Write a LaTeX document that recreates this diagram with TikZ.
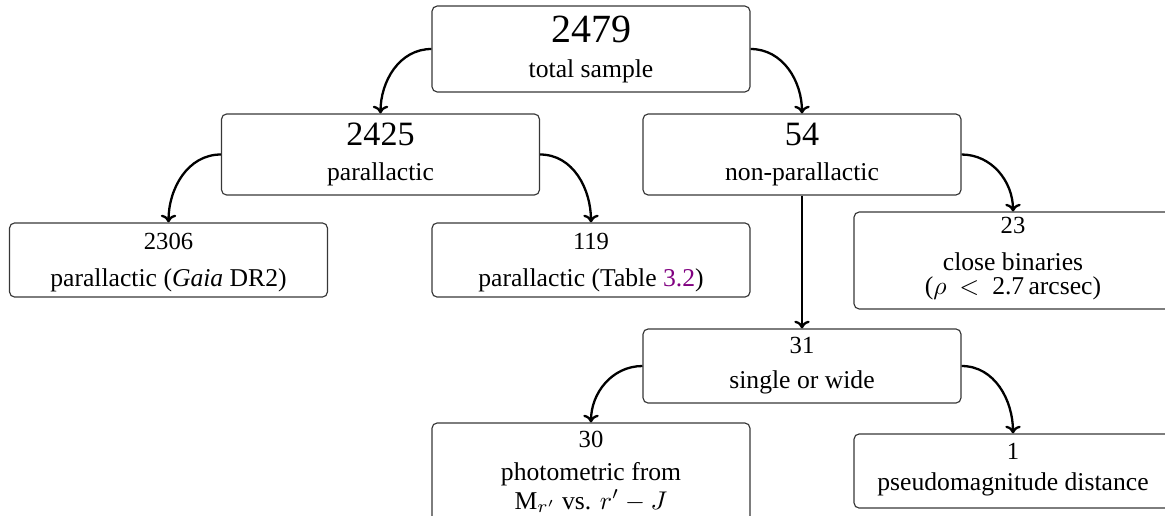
\documentclass[tikz,border=0pt]{standalone}
\usepackage{fontspec}
\setmainfont{Liberation Serif}
\usetikzlibrary{arrows.meta}
\definecolor{linkpurple}{RGB}{128,0,128}
\definecolor{boxline}{RGB}{55,55,55}
\tikzset{
  box/.style={draw=boxline, line width=0.45pt, rounded corners=2pt, inner sep=0pt,
              minimum width=124pt, minimum height=#1},
  flow/.style={-{To[length=3pt,width=6pt]}, line width=0.9pt, black},
  txt/.style={anchor=base, inner sep=0pt, font=\fontsize{10}{12}\selectfont},
  numA/.style={anchor=base, inner sep=0pt, font=\fontsize{15.6}{18}\selectfont},
  numB/.style={anchor=base, inner sep=0pt, font=\fontsize{13.3}{16}\selectfont},
  numC/.style={anchor=base, inner sep=0pt, font=\fontsize{9.6}{12}\selectfont},
}
\begin{document}
\begin{tikzpicture}[x=0.39pt, y=-0.39pt]
\useasboundingbox (0,0) rectangle (1165,515);
\clip (0,0) rectangle (1165,515);

% boxes
\node[box=33.5pt] (tot)  at (591,49)     {};
\node[box=31.6pt] (par)  at (380.5,154.5) {};
\node[box=31.6pt] (non)  at (802,154.5) {};
\node[box=28.9pt] (gaia) at (168.5,260)  {};
\node[box=28.9pt] (tab)  at (591,260)    {};
\node[box=37.8pt] (cb)   at (1013,260.5) {};
\node[box=28.9pt] (sw)   at (802,366)  {};
\node[box=39.4pt] (ph)   at (591,473.5)  {};
\node[box=28.9pt] (pm)   at (1013,471)   {};

% texts
\node[numA] (totn) at (591,42) {2479};
\node[txt]  (tott) at (591,77) {total sample};
\node[numB] (parn) at (380.5,145) {2425};
\node[txt]  (part) at (380.5,180) {parallactic};
\node[numB] (nonn) at (802,145) {54};
\node[txt]  (nont) at (802,180) {non-parallactic};
\node[numC] (gaian) at (168.5,249) {2306};
\node[txt]  (gaiat) at (168.5,286) {parallactic (\textit{Gaia} DR2)};
\node[numC] (tabn) at (591,249) {119};
\node[txt]  (tabt) at (591,286) {parallactic (Table \textcolor{linkpurple}{3.2})};
\node[numC] (cbn) at (1013,233) {23};
\node[txt]  (cbt) at (1013,270) {close binaries};
\node[txt]  (cbr) at (1013,294) {($\rho$\hspace{5pt}$<$\hspace{5pt}2.7\,arcsec)};
\node[numC] (swn) at (802,353) {31};
\node[txt]  (swt) at (802,388) {single or wide};
\node[numC] (phn) at (591,447) {30};
\node[txt]  (pht) at (591,480) {photometric from};
\node[txt]  (phm) at (591,509) {M$_{r'}$ vs. $r' - J$};
\node[numC] (pmn) at (1013,459) {1};
\node[txt]  (pmt) at (1013,490) {pseudomagnitude distance};

% connectors
\draw[flow] (tot.west) to[out=180,in=90] (par.north);
\draw[flow] (tot.east) to[out=0,in=90] (non.north);
\draw[flow] (par.west) to[out=180,in=90] (gaia.north);
\draw[flow] (par.east) to[out=0,in=90] (tab.north);
\draw[flow] (non.east) to[out=0,in=90] (cb.north);
\draw[flow] (non.south) -- (sw.north);
\draw[flow] (sw.west) to[out=180,in=90] (ph.north);
\draw[flow] (sw.east) to[out=0,in=90] (pm.north);
\end{tikzpicture}
\end{document}
